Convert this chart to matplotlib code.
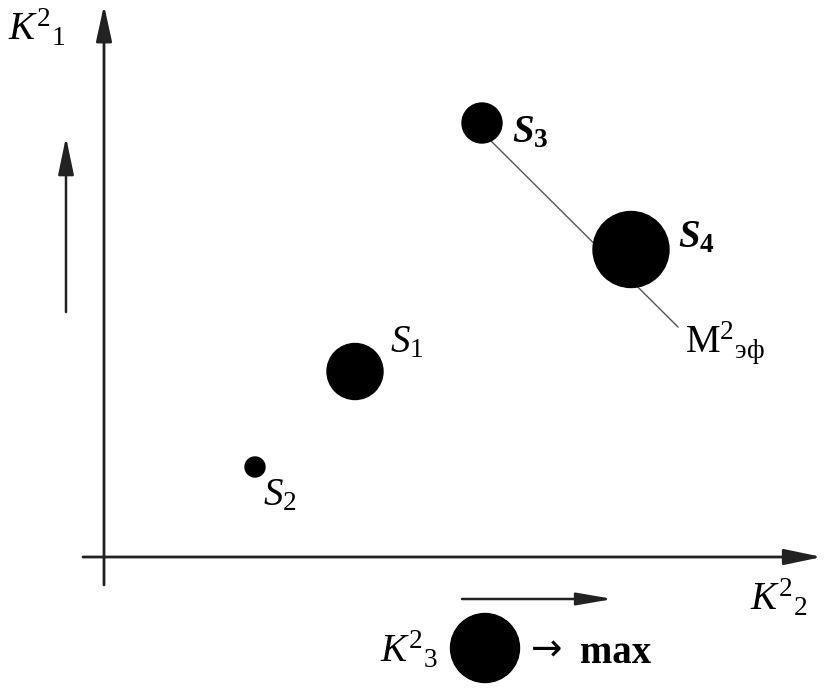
import matplotlib
matplotlib.use("Agg")
import matplotlib.pyplot as plt
from matplotlib.patches import Circle, FancyArrowPatch

plt.rcParams['font.family'] = ['Liberation Serif', 'DejaVu Serif']
plt.rcParams['mathtext.fontset'] = 'custom'
plt.rcParams['mathtext.rm'] = 'Liberation Serif'
plt.rcParams['mathtext.it'] = 'Liberation Serif:italic'
plt.rcParams['mathtext.bf'] = 'Liberation Serif:bold'
plt.rcParams['mathtext.bfit'] = 'Liberation Serif:italic:bold'

# ---- data (K2 on x, K1 on y, K3 as circle radius) ----
names = ['S1', 'S2', 'S3', 'S4']
k2_values = [2.51, 1.51, 3.78, 5.27]
k1_values = [1.855, 0.90, 4.34, 3.075]
k3_values = [0.28, 0.10, 0.20, 0.38]
labels = [r'$S_1$', r'$S_2$', r'$\mathbfit{S}_{\mathbf{3}}$', r'$\mathbfit{S}_{\mathbf{4}}$']
label_pos = [(2.86, 2.05), (1.59, 0.52), (4.08, 4.15), (5.74, 3.10)]

# effective frontier line M2_eff
meff_x = [3.78, 5.74]
meff_y = [4.25, 2.30]

# legend circle
legend_x, legend_y, legend_r = 3.81, -0.91, 0.345

fig = plt.figure(figsize=(8.32, 6.89), dpi=100)
ax = fig.add_axes([0, 0, 1, 1])
ax.set_xlim(-1.04, 7.28)
ax.set_ylim(-1.32, 5.57)
ax.set_aspect('equal')
ax.axis('off')

axcol = '#222222'

def arrow(p0, p1, lw, hl, hw):
    a = FancyArrowPatch(p0, p1, arrowstyle=f'-|>,head_length={hl},head_width={hw}',
                        mutation_scale=1, lw=lw, color=axcol, shrinkA=0, shrinkB=0)
    ax.add_patch(a)

# axes
arrow((0, -0.28), (0, 5.52), 2.0, 22, 4.8)
arrow((-0.21, 0), (7.18, 0), 2.0, 23, 4.8)
# small direction arrows
arrow((-0.38, 2.45), (-0.38, 4.20), 1.8, 23, 4.8)
arrow((3.58, -0.42), (5.09, -0.42), 1.8, 22, 3.8)

# frontier line
ax.plot(meff_x, meff_y, color='#555555', lw=1.0, zorder=1)

# circles
for x, y, r in zip(k2_values, k1_values, k3_values):
    ax.add_patch(Circle((x, y), r, color='black', zorder=3))
ax.add_patch(Circle((legend_x, legend_y), legend_r, color='black', zorder=3))

fs = 28
for lab, (lx, ly) in zip(labels, label_pos):
    ax.text(lx, ly, lab, fontsize=fs, ha='left', va='baseline')

ax.text(5.81, 2.05, r'$\mathrm{M}^{2}{}_{\mathrm{эф}}$', fontsize=fs, ha='left', va='baseline')
ax.text(-0.96, 5.17, r'$K^{2}{}_{1}$', fontsize=fs, ha='left', va='baseline')
ax.text(6.46, -0.53, r'$K^{2}{}_{2}$', fontsize=fs, ha='left', va='baseline')
ax.text(2.76, -1.05, r'$K^{2}{}_{3}$', fontsize=fs, ha='left', va='baseline')
ax.text(4.27, -1.03, '→', fontsize=27, family=['DejaVu Sans'], ha='left', va='baseline')
ax.text(4.76, -1.06, 'max', fontsize=fs, fontweight='bold', ha='left', va='baseline')

fig.savefig('out.png', dpi=100)
